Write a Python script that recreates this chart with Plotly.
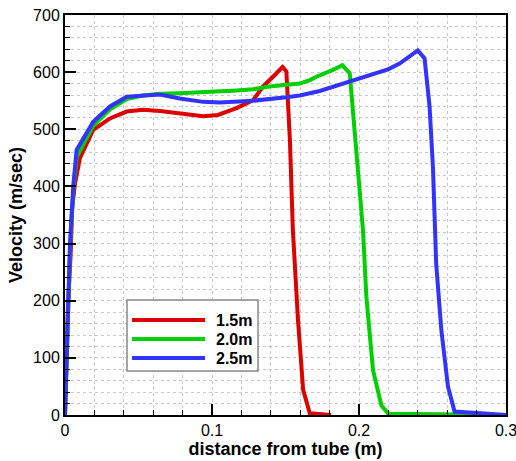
import plotly.graph_objects as go

# ---- data ----
x_15 = [0, 0.001, 0.002, 0.004, 0.0048, 0.0068, 0.0102, 0.0192, 0.0306, 0.0419, 0.0532,
        0.0646, 0.078, 0.094, 0.104, 0.1167, 0.128, 0.1348, 0.1415, 0.148, 0.1506, 0.153,
        0.155, 0.1585, 0.162, 0.1665, 0.181]
v_15 = [0, 90, 190, 290, 360, 405, 450, 499, 519, 531, 534,
        532, 528, 523, 525, 537, 551, 575, 592, 609, 601, 481,
        324, 166, 44, 3, 0]

x_20 = [0, 0.001, 0.0023, 0.0036, 0.0058, 0.008, 0.0192, 0.0306, 0.042, 0.053, 0.0646,
        0.078, 0.1167, 0.128, 0.139, 0.1506, 0.1597, 0.1665, 0.171, 0.1823, 0.1887, 0.1937,
        0.1955, 0.1985, 0.2027, 0.205, 0.2095, 0.2152, 0.22, 0.3]
v_20 = [0, 95, 200, 300, 400, 452, 506, 535, 553, 559, 562,
        563, 568, 570, 575, 577, 580, 586, 592, 604, 612, 598,
        545, 465, 324, 207, 79, 17, 2, 0]

x_25 = [0, 0.0011, 0.0023, 0.0034, 0.0056, 0.0079, 0.0192, 0.0306, 0.042, 0.0555, 0.0646,
        0.078, 0.094, 0.1053, 0.128, 0.1506, 0.1597, 0.1733, 0.1937, 0.205, 0.2163,
        0.2197, 0.2276, 0.24, 0.2446, 0.248, 0.2503, 0.2514, 0.2525, 0.256, 0.2605, 0.265, 0.3]
v_25 = [0, 96, 201, 300, 400, 464, 513, 540, 557, 560, 561,
        554, 548, 547, 550, 556, 559, 567, 583, 592, 601,
        605, 615, 638, 624, 540, 434, 324, 265, 149, 50, 6, 0]

series_names = ["1.5m", "2.0m", "2.5m"]
series_colors = ["#dd0000", "#00d000", "#3333ff"]
series_x = [x_15, x_20, x_25]
series_v = [v_15, v_20, v_25]

FONT = "Liberation Sans, Arial, sans-serif"

fig = go.Figure()
for name, col, xs, vs in zip(series_names, series_colors, series_x, series_v):
    fig.add_trace(go.Scatter(x=xs, y=vs, mode="lines", name=name,
                             line=dict(color=col, width=4), showlegend=False))

grid = dict(showgrid=True, gridcolor="#c8c8c8", griddash="dot", gridwidth=1)

fig.update_xaxes(
    range=[0, 0.3], tickvals=[0, 0.1, 0.2, 0.3], ticktext=["0", "0.1", "0.2", "0.3"],
    ticks="inside", ticklen=11, tickwidth=2, ticklabeloverflow="allow",
    tickcolor="black", showline=True, linecolor="black", linewidth=2, mirror=True,
    zeroline=False, automargin=False, tickfont=dict(size=16, color="black", family=FONT),
    title=dict(text="<b>distance from tube (m)</b>", font=dict(size=18, color="black", family=FONT), standoff=4),
    minor=dict(dtick=0.02, tick0=0, ticks="inside", ticklen=5, tickwidth=1, tickcolor="black", **grid),
    **grid,
)
fig.update_yaxes(
    range=[0, 700], dtick=100, tick0=0, ticks="inside", ticklen=11, tickwidth=2,
    tickcolor="black", showline=True, linecolor="black", linewidth=2, mirror=True,
    zeroline=False, automargin=False, tickfont=dict(size=16, color="black", family=FONT),
    title=dict(text="<b>Velocity (m/sec)</b>", font=dict(size=18, color="black", family=FONT), standoff=6),
    minor=dict(dtick=20, ticks="inside", ticklen=5, tickwidth=1, tickcolor="black", **grid),
    **grid,
)

# ---- custom legend box (paper coordinates) ----
W, H = 516, 461
ml, mr, mt, mb = 65, 10, 15, 46
pw, ph = W - ml - mr, H - mt - mb


def px2paper(px, py):
    return (px - ml) / pw, (H - mb - py) / ph


x0, y0 = px2paper(127, 300)
x1, y1 = px2paper(258, 371)
fig.add_shape(type="rect", xref="paper", yref="paper", x0=x0, y0=y1, x1=x1, y1=y0,
              line=dict(color="#888888", width=1.5), fillcolor="white", layer="above")
for i, (name, col) in enumerate(zip(series_names, series_colors)):
    ly = 320 + i * 19
    a0, b0 = px2paper(132, ly)
    a1, _ = px2paper(205, ly)
    fig.add_shape(type="line", xref="paper", yref="paper", x0=a0, y0=b0, x1=a1, y1=b0,
                  line=dict(color=col, width=4), layer="above")
    tx, _ = px2paper(214, ly)
    fig.add_annotation(xref="paper", yref="paper", x=tx, y=b0, text=f"<b>{name}</b>",
                       showarrow=False, xanchor="left", yanchor="middle",
                       font=dict(size=16, color="black", family=FONT))

fig.update_layout(
    width=W, height=H, margin=dict(l=ml, r=mr, t=mt, b=mb),
    plot_bgcolor="white", paper_bgcolor="white",
    font=dict(family=FONT, color="black"),
)

fig.write_html("out.html")
